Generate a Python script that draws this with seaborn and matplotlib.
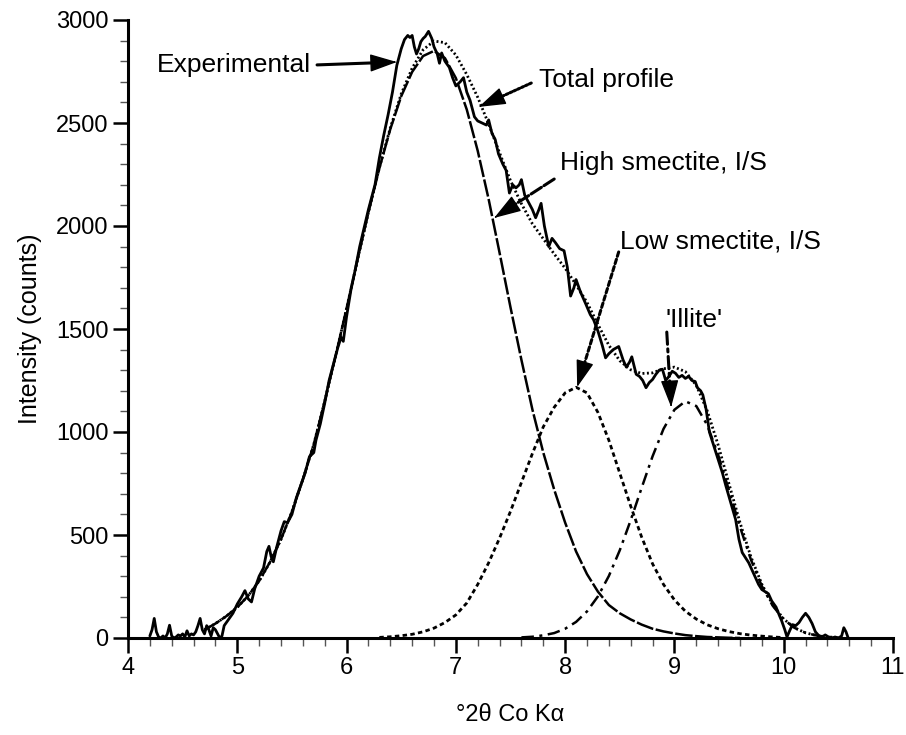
import matplotlib
matplotlib.use("Agg")
import matplotlib.pyplot as plt
import seaborn as sns
import pandas as pd
from matplotlib.ticker import MultipleLocator

# ---------------- data ----------------
exp_x = [4.20, 4.22, 4.24, 4.26, 4.28, 4.30, 4.32, 4.34, 4.36, 4.38, 4.40, 4.42, 4.44, 4.46, 4.48,
         4.50, 4.52, 4.54, 4.56, 4.58, 4.60, 4.62, 4.64, 4.66, 4.68, 4.70, 4.72, 4.74, 4.76, 4.78,
         4.80, 4.82, 4.84, 4.86, 4.88, 4.90, 4.92, 4.96, 5.00, 5.04, 5.07, 5.10, 5.13, 5.16, 5.20,
         5.24, 5.27, 5.29, 5.31, 5.33, 5.36, 5.40, 5.43, 5.46, 5.50, 5.54, 5.58, 5.62, 5.66, 5.70,
         5.72, 5.76, 5.80, 5.84, 5.88, 5.92, 5.95, 5.97, 6.00, 6.04, 6.08, 6.12, 6.16, 6.20, 6.23,
         6.26, 6.30, 6.34, 6.38, 6.42, 6.46, 6.50, 6.53, 6.56, 6.58, 6.60, 6.62, 6.64, 6.66, 6.68,
         6.70, 6.72, 6.75, 6.78, 6.80, 6.83, 6.85, 6.87, 6.90, 6.94, 6.97, 7.00, 7.04, 7.07, 7.10,
         7.13, 7.17, 7.20, 7.24, 7.28, 7.30, 7.33, 7.36, 7.39, 7.43, 7.46, 7.49, 7.52, 7.55, 7.58,
         7.60, 7.63, 7.66, 7.70, 7.73, 7.76, 7.78, 7.81, 7.85, 7.88, 7.91, 7.95, 7.99, 8.02, 8.05,
         8.08, 8.10, 8.14, 8.19, 8.23, 8.26, 8.30, 8.34, 8.37, 8.40, 8.44, 8.49, 8.53, 8.56, 8.59,
         8.61, 8.65, 8.68, 8.71, 8.74, 8.77, 8.80, 8.83, 8.86, 8.89, 8.92, 8.95, 8.98, 9.01, 9.04,
         9.07, 9.10, 9.13, 9.16, 9.19, 9.21, 9.24, 9.26, 9.29, 9.32, 9.35, 9.38, 9.41, 9.44, 9.47,
         9.50, 9.53, 9.56, 9.59, 9.62, 9.65, 9.68, 9.71, 9.74, 9.77, 9.80, 9.83, 9.86, 9.89, 9.93,
         9.96, 9.98, 10.01, 10.03, 10.05, 10.08, 10.11, 10.14, 10.17, 10.20, 10.23, 10.26, 10.29,
         10.32, 10.35, 10.38, 10.41, 10.44, 10.47, 10.50, 10.53, 10.55, 10.57, 10.59]
exp_y = [10, 40, 95, 30, 5, 0, 10, 0, 20, 62, 10, 0, 5, 15, 10,
         20, 5, 35, 10, 20, 15, 30, 60, 95, 40, 20, 60, 40, 10, 50,
         40, 20, 0, 10, 60, 75, 90, 120, 165, 200, 230, 190, 175, 240, 300,
         340, 420, 445, 395, 370, 440, 520, 565, 560, 600, 680, 740, 800, 880, 900,
         960, 1040, 1140, 1250, 1330, 1410, 1460, 1440, 1560, 1690, 1790, 1900, 1990, 2080, 2140,
         2200, 2330, 2440, 2540, 2650, 2780, 2860, 2905, 2925, 2915, 2925, 2870, 2835, 2860, 2895,
         2910, 2920, 2945, 2910, 2870, 2835, 2790, 2840, 2800, 2770, 2720, 2680, 2700, 2720, 2650,
         2610, 2530, 2510, 2500, 2490, 2515, 2450, 2420, 2350, 2300, 2270, 2160, 2200, 2185, 2200,
         2225, 2150, 2120, 2080, 2040, 2080, 2110, 2000, 1900, 1940, 1920, 1890, 1880, 1800, 1660,
         1700, 1740, 1680, 1620, 1570, 1545, 1490, 1420, 1360, 1380, 1400, 1415, 1350, 1315, 1340,
         1365, 1280, 1270, 1250, 1215, 1240, 1255, 1280, 1300, 1305, 1250, 1270, 1295, 1285, 1265,
         1275, 1260, 1270, 1250, 1245, 1215, 1200, 1180, 1110, 1000, 950, 900, 850, 800, 740,
         685, 630, 575, 480, 415, 390, 365, 330, 295, 260, 235, 225, 215, 180, 150,
         110, 85, 40, 5, 30, 65, 60, 75, 100, 120, 100, 70, 30,
         12, 5, 15, 5, 0, 5, 0, 10, 50, 30, 0]

hs_x = [4.7, 4.8, 4.9, 5.0, 5.1, 5.2, 5.3, 5.4, 5.5, 5.6, 5.7, 5.8, 5.9, 6.0, 6.1, 6.2, 6.3,
        6.4, 6.5, 6.6, 6.7, 6.8, 6.9, 7.0, 7.1, 7.2, 7.3, 7.4, 7.5, 7.6, 7.7, 7.8, 7.9, 8.0,
        8.1, 8.2, 8.3, 8.4, 8.5, 8.6, 8.7, 8.8, 8.9, 9.0, 9.1, 9.2, 9.3, 9.4, 9.5, 9.6]
hs_y = [40, 70, 106, 149, 205, 277, 369, 479, 613, 770, 940, 1150, 1370, 1600, 1835, 2066, 2280,
        2470, 2630, 2748, 2825, 2850, 2815, 2718, 2565, 2365, 2130, 1870, 1605, 1350, 1110, 900,
        720, 560, 420, 310, 225, 160, 120, 90, 65, 45, 32, 22, 14, 9, 5, 3, 1, 0]

ls_x = [6.3, 6.4, 6.5, 6.6, 6.7, 6.8, 6.9, 7.0, 7.1, 7.2, 7.3, 7.4, 7.5, 7.6, 7.7, 7.8, 7.9,
        8.0, 8.1, 8.2, 8.3, 8.4, 8.5, 8.6, 8.7, 8.8, 8.9, 9.0, 9.1, 9.2, 9.3, 9.4, 9.5, 9.6,
        9.7, 9.8, 9.9, 10.0]
ls_y = [3, 6, 11, 18, 30, 48, 75, 112, 170, 260, 365, 485, 615, 755, 895, 1025, 1120,
        1190, 1217, 1190, 1095, 960, 800, 640, 490, 360, 260, 185, 130, 92, 64, 45, 31, 21,
        14, 9, 5, 2]

il_x = [7.6, 7.7, 7.8, 7.9, 8.0, 8.1, 8.2, 8.3, 8.4, 8.5, 8.6, 8.7, 8.8, 8.9, 9.0, 9.1, 9.2,
        9.3, 9.4, 9.5, 9.6, 9.7, 9.8, 9.9, 10.0, 10.1, 10.2, 10.3, 10.4, 10.5]
il_y = [3, 6, 13, 24, 45, 78, 129, 202, 301, 426, 572, 729, 882, 1015, 1108, 1149, 1126,
        1034, 889, 715, 539, 380, 252, 156, 90, 49, 25, 12, 5, 2]

tot_x = [4.7, 4.8, 4.9, 5.0, 5.1, 5.2, 5.3, 5.4, 5.5, 5.6, 5.7, 5.8, 5.9, 6.0, 6.1, 6.2, 6.3,
         6.4, 6.5, 6.6, 6.7, 6.8, 6.9, 7.0, 7.1, 7.2, 7.3, 7.4, 7.5, 7.6, 7.7, 7.8, 7.9, 8.0,
         8.1, 8.2, 8.3, 8.4, 8.5, 8.6, 8.7, 8.8, 8.9, 9.0, 9.1, 9.2, 9.3, 9.4, 9.5, 9.6, 9.7,
         9.8, 9.9, 10.0, 10.1, 10.2, 10.3, 10.4, 10.5]
tot_y = [40, 70, 106, 149, 205, 277, 369, 479, 613, 770, 940, 1150, 1370, 1600, 1835, 2066, 2283,
         2476, 2641, 2766, 2855, 2898, 2890, 2830, 2735, 2625, 2495, 2355, 2220, 2108, 2011, 1938, 1864, 1795,
         1715, 1629, 1522, 1421, 1346, 1302, 1284, 1287, 1307, 1315, 1293, 1227, 1103, 937, 747, 560, 394,
         261, 161, 92, 49, 25, 12, 5, 2]

x_ticks = [4, 5, 6, 7, 8, 9, 10, 11]
y_ticks = [0, 500, 1000, 1500, 2000, 2500, 3000]

labels = {
    "exp": "Experimental",
    "tot": "Total profile",
    "hs": "High smectite, I/S",
    "ls": "Low smectite, I/S",
    "il": "'Illite'",
}

# ---------------- figure ----------------
sns.set_theme(style="ticks")
plt.rcParams["font.family"] = ["Liberation Sans", "DejaVu Sans"]

W, H = 906, 735
fig = plt.figure(figsize=(W / 100, H / 100), dpi=100)
ax = fig.add_axes([128 / W, 1 - 638 / H, (893 - 128) / W, (638 - 20) / H])

k = "black"
sns.lineplot(x=hs_x, y=hs_y, ax=ax, color=k, lw=1.8, linestyle=(0, (7, 1.0)), estimator=None, sort=False)
sns.lineplot(x=ls_x, y=ls_y, ax=ax, color=k, lw=2.0, linestyle=(0, (1.6, 1.2)), estimator=None, sort=False)
sns.lineplot(x=il_x, y=il_y, ax=ax, color=k, lw=1.8, linestyle=(0, (5, 2.2, 1.2, 2.2)), estimator=None, sort=False)
sns.lineplot(x=tot_x, y=tot_y, ax=ax, color=k, lw=2.0, linestyle=(0, (0.7, 0.9)), estimator=None, sort=False)
sns.lineplot(x=exp_x, y=exp_y, ax=ax, color=k, lw=2.0, estimator=None, sort=False)

ax.set_xlim(4, 11)
ax.set_ylim(0, 3000)
ax.set_xticks(x_ticks)
ax.set_yticks(y_ticks)
ax.xaxis.set_minor_locator(MultipleLocator(0.2))
ax.yaxis.set_minor_locator(MultipleLocator(100))
ax.tick_params(which="major", direction="out", length=11, width=1.8, color=k,
               labelsize=17, pad=3, labelcolor=k)
ax.tick_params(which="minor", direction="out", length=6, width=1.0, color="#555555")
for s in ["top", "right"]:
    ax.spines[s].set_visible(False)
for s in ["left", "bottom"]:
    ax.spines[s].set_linewidth(2.2)
    ax.spines[s].set_color(k)

ax.set_xlabel("°2θ Co Kα", fontsize=17, color=k, labelpad=18)
ax.set_ylabel("Intensity (counts)", fontsize=18, color=k, labelpad=10)

fs = 19
def arrow(text, txy, tail, tip, ls):
    # shaft (styled like the component it points to)
    ax.annotate("", xy=tip, xytext=tail,
                arrowprops=dict(arrowstyle="-", color=k, lw=2.2, linestyle=ls,
                                shrinkA=0, shrinkB=8))
    # solid filled head
    hx = tip[0] + (tail[0] - tip[0]) * 0.03
    hy = tip[1] + (tail[1] - tip[1]) * 0.03
    ax.annotate("", xy=tip, xytext=(hx, hy),
                arrowprops=dict(arrowstyle="-|>,head_length=0.85,head_width=0.28", color=k,
                                lw=1.0, linestyle="-", shrinkA=0, shrinkB=0,
                                mutation_scale=20))
    ax.text(txy[0], txy[1], text, fontsize=fs, color=k, ha="left", va="center")

arrow(labels["exp"], (4.265, 2782), (5.73, 2782), (6.46, 2796), "-")
arrow(labels["tot"], (7.76, 2709), (7.69, 2694), (7.21, 2578), (0, (0.7, 0.7)))
arrow(labels["hs"], (7.95, 2306), (7.90, 2228), (7.35, 2039), (0, (4, 1)))
arrow(labels["ls"], (8.50, 1927), (8.49, 1874), (8.11, 1218), (0, (1.5, 1.0)))
arrow(labels["il"], (8.92, 1544), (8.93, 1485), (8.97, 1121), (0, (4, 1.5, 1, 1.5)))

fig.savefig("out.png", dpi=100, facecolor="white")
